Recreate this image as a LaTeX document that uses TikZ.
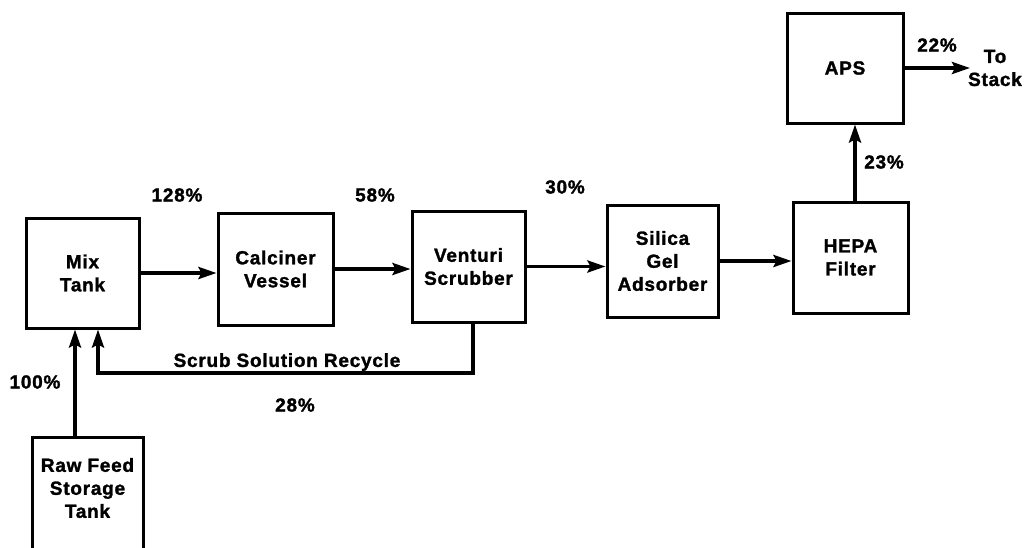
\documentclass[tikz,border=0pt]{standalone}
\usepackage{fontspec}
\setmainfont{Liberation Sans}[LetterSpace=4, BoldFeatures={FakeBold=1.5}]
\usetikzlibrary{arrows.meta}
\begin{document}
\begin{tikzpicture}[x=1pt,y=-1pt,
  font=\fontsize{19}{23}\selectfont\bfseries,
  box/.style={draw, line width=3pt, inner sep=0pt, align=center},
  tip/.style={-{Stealth[length=18pt,width=12pt,inset=3pt]}},
  flow/.style={line width=3.5pt, tip},
  lbl/.style={inner sep=0pt, align=center}]
\useasboundingbox (0,0) rectangle (1024,547);
\clip (0,0) rectangle (1024,547);

\node[box, minimum width=113pt, minimum height=110pt] (mix) at (82.5,273) {Mix\\Tank};
\node[box, minimum width=115pt, minimum height=112pt] (calc) at (275.5,269) {Calciner\\Vessel};
\node[box, minimum width=113pt, minimum height=111pt] (vent) at (468.5,266.5) {Venturi\\Scrubber};
\node[box, minimum width=111pt, minimum height=112pt] (sil) at (662.5,261) {Silica\\Gel\\Adsorber};
\node[box, minimum width=115pt, minimum height=111pt] (hepa) at (850.5,257.5) {HEPA\\Filter};
\node[box, minimum width=116pt, minimum height=110pt] (aps) at (845,68) {APS};
\node[box, minimum width=111pt, minimum height=150pt, anchor=north] (raw) at (87.5,436) {};
\node[lbl] (rawtxt) at (87.5,488) {Raw Feed\\Storage\\Tank};

\coordinate (r1) at (473,373);
\coordinate (r2) at (98,373);
\coordinate (f) at (75,0);
\coordinate (stack) at (970,0);

\draw[flow] (mix.east) -- (mix.east -| calc.west);
\draw[flow] (calc.east) -- (calc.east -| vent.west);
\draw[flow] (vent.east) -- (vent.east -| sil.west);
\draw[flow] (sil.east) -- (sil.east -| hepa.west);
\draw[flow] (hepa.north -| 855,0) -- (aps.south -| 855,0);
\draw[flow] (aps.east) -- (aps.east -| stack);
\draw[flow] (vent.south -| r1) -- (r1) -- (r2) -- (r2 |- mix.south);
\draw[flow] (raw.north -| f) -- (f |- mix.south);

\node[lbl] (p128) at (177,195) {128\%};
\node[lbl] (p58) at (375,195) {58\%};
\node[lbl] (p30) at (565,187) {30\%};
\node[lbl] (p23) at (884,162) {23\%};
\node[lbl] (p22) at (937,45) {22\%};
\node[lbl] (p100) at (35,382) {100\%};
\node[lbl] (p28) at (295,405) {28\%};
\node[lbl] (rec) at (287,362) {Scrub Solution Recycle};
\node[lbl] (tostack) at (995,68) {To\\Stack};
\end{tikzpicture}
\end{document}
